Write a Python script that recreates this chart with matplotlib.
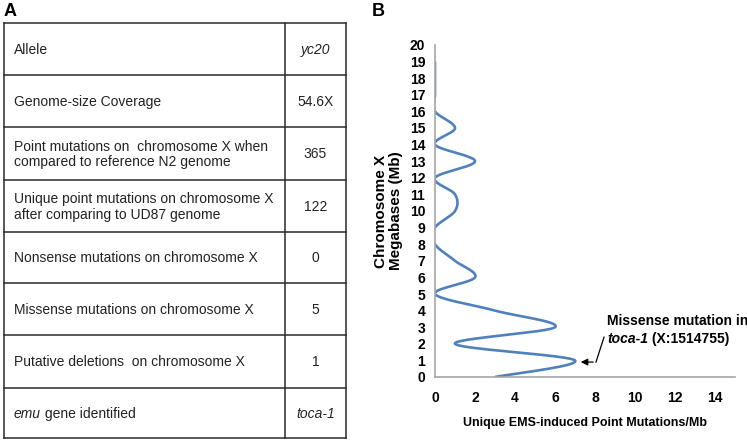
import numpy as np
import matplotlib
matplotlib.use("Agg")
import matplotlib.pyplot as plt

plt.rcParams['font.family'] = ['Liberation Sans', 'DejaVu Sans']

# ---------------- data ----------------
row_labels = [
    "Allele",
    "Genome-size Coverage",
    "Point mutations on  chromosome X when\ncompared to reference N2 genome",
    "Unique point mutations on chromosome X\nafter comparing to UD87 genome",
    "Nonsense mutations on chromosome X",
    "Missense mutations on chromosome X",
    "Putative deletions  on chromosome X",
    "gene identified",
]
row_values = ["yc20", "54.6X", "365", "122", "0", "5", "1", "toca-1"]
value_italic = [True, False, False, False, False, False, False, True]

positions_mb = [0, 1, 2, 3, 4, 5, 6, 7, 8, 9, 10, 11, 12, 13, 14, 15, 16, 17, 18, 19]
mutations_per_mb = [3, 7, 1, 6, 3, 0, 2, 1, 0, 0, 1, 1, 0, 2, 0, 1, 0, 0, 0, 0]

x_ticks = [0, 2, 4, 6, 8, 10, 12, 14]
y_ticks = list(range(0, 21))


def smooth(xs, ys, n=30, tension=1.0 / 6):
    """Excel-like smoothed line (cardinal Bezier through the points)."""
    P = np.column_stack([xs, ys]).astype(float)
    out = []
    for i in range(len(P) - 1):
        p0 = P[i - 1] if i > 0 else P[i]
        p1, p2 = P[i], P[i + 1]
        p3 = P[i + 2] if i + 2 < len(P) else P[i + 1]
        c1 = p1 + (p2 - p0) * tension
        c2 = p2 - (p3 - p1) * tension
        t = np.linspace(0, 1, n)[:, None]
        seg = ((1 - t) ** 3) * p1 + 3 * ((1 - t) ** 2) * t * c1 + 3 * (1 - t) * t ** 2 * c2 + t ** 3 * p2
        out.append(seg if i == 0 else seg[1:])
    s = np.vstack(out)
    return s[:, 0], s[:, 1]


W, H = 747, 442
fig = plt.figure(figsize=(W / 100, H / 100), dpi=100)

# ---------------- panel A: table ----------------
axt = fig.add_axes([0, 0, 1, 1])
axt.set_xlim(0, W)
axt.set_ylim(H, 0)
axt.axis('off')

row_edges = [23, 75, 127, 180, 232, 283, 335, 388, 438]
x_left, x_div, x_right = 4, 285, 346
lc = '#2a2a2a'
lw = 1.1
for yy in row_edges:
    axt.plot([x_left, x_right], [yy, yy], color=lc, lw=lw, solid_capstyle='projecting')
for xx in (x_left, x_div, x_right):
    axt.plot([xx, xx], [row_edges[0], row_edges[-1]], color=lc, lw=lw, solid_capstyle='projecting')

axt.text(4, 11, "A", fontsize=13, fontweight='bold', va='center', ha='left')
axt.text(372, 11, "B", fontsize=13, fontweight='bold', va='center', ha='left')

fs = 10
for i, (lab, val) in enumerate(zip(row_labels, row_values)):
    yc = (row_edges[i] + row_edges[i + 1]) / 2 + 1
    if i == len(row_labels) - 1:
        t1 = axt.text(14, yc, "emu", fontsize=fs, style='italic', va='center', ha='left', color='#222222')
        axt.annotate(" " + lab, xy=(1, 0.5), xycoords=t1, va='center', ha='left',
                     fontsize=fs, color='#222222')
    else:
        axt.text(14, yc, lab, fontsize=fs, va='center', ha='left', linespacing=1.15, color='#222222')
    axt.text((x_div + x_right) / 2, yc, val, fontsize=fs, va='center', ha='center',
             style='italic' if value_italic[i] else 'normal', color='#222222')

# ---------------- panel B: line chart ----------------
ax = fig.add_axes([435 / W, 1 - 377 / H, (735 - 435) / W, (377 - 45) / H])
sx, sy = smooth(mutations_per_mb, positions_mb)
ax.plot(sx, sy, color='#4f81bd', lw=1.9, solid_capstyle='butt')
ax.set_xlim(0, 15)
ax.set_ylim(0, 20)
ax.set_xticks(x_ticks)
ax.set_yticks(y_ticks)
for s in ('top', 'right'):
    ax.spines[s].set_visible(False)
for s in ('left', 'bottom'):
    ax.spines[s].set_color('#a6a6a6')
    ax.spines[s].set_linewidth(1.2)
ax.tick_params(axis='both', length=0, labelsize=10)
ax.tick_params(axis='y', pad=7)
ax.tick_params(axis='x', pad=10)
for lab in ax.get_xticklabels() + ax.get_yticklabels():
    lab.set_fontweight('bold')
ax.set_xlabel("Unique EMS-induced Point Mutations/Mb", fontsize=9, fontweight='bold', labelpad=9)
ax.set_ylabel("Chromosome X\nMegabases (Mb)", fontsize=11, fontweight='bold', labelpad=5, linespacing=1.05)

# annotation
ax.text(8.6, 3.35, "Missense mutation in", fontsize=10, fontweight='bold', va='center', ha='left')
t2 = ax.text(8.6, 2.3, "toca-1", fontsize=10, fontweight='bold', style='italic', va='center', ha='left')
ax.annotate(" (X:1514755)", xy=(1, 0.5), xycoords=t2, fontsize=10, fontweight='bold', va='center', ha='left')
ax.plot([8.45, 8.05], [2.4, 0.9], color='black', lw=0.9)
ax.annotate("", xy=(7.15, 0.9), xytext=(8.05, 0.9),
            arrowprops=dict(arrowstyle='-|>', color='black', lw=0.9, mutation_scale=10))

fig.savefig("out.png", dpi=100)
